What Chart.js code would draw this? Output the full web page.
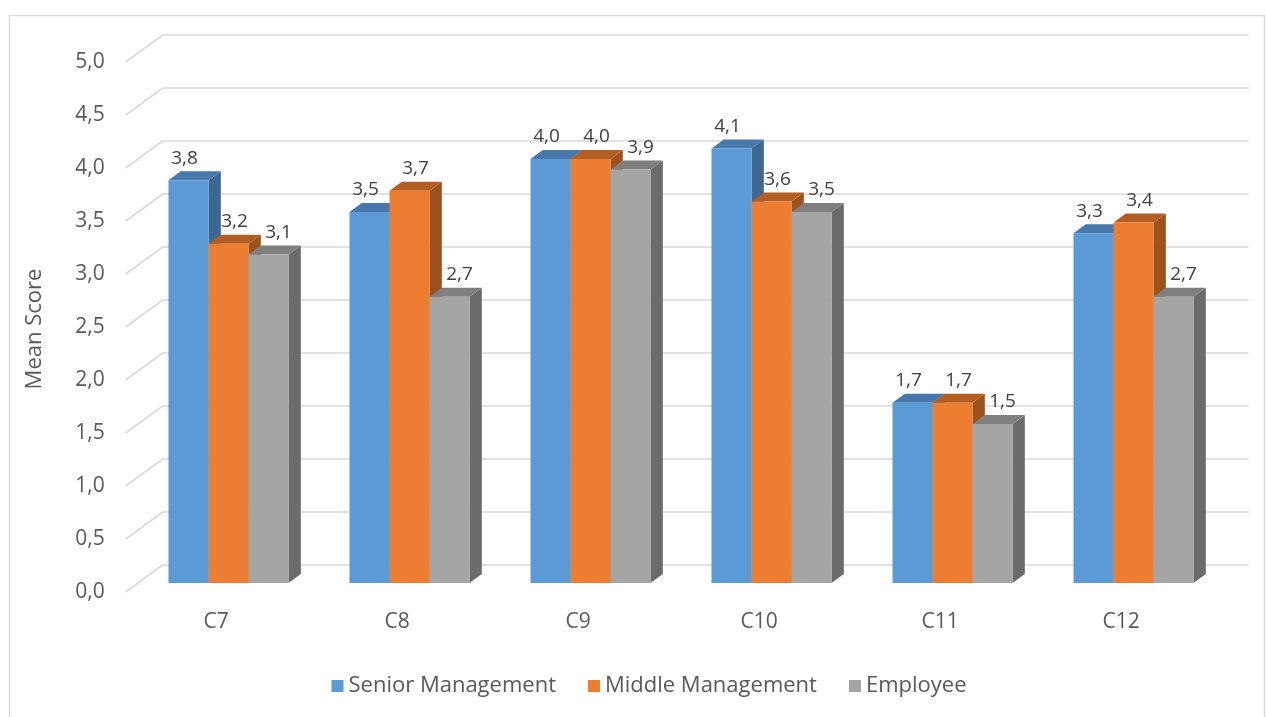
<!DOCTYPE html>
<html>
<head>
<meta charset="utf-8">
<title>Mean Score</title>
<script src="https://cdn.jsdelivr.net/npm/chart.js@4.4.1/dist/chart.umd.min.js"></script>
<style>
  html, body { margin: 0; padding: 0; background: #fff; }
  canvas { display: block; }
</style>
</head>
<body>
<canvas id="meanScoreChart" width="1266" height="717"></canvas>
<script>
// カテゴリと系列データ
const categories = ['C7', 'C8', 'C9', 'C10', 'C11', 'C12'];
const seniorManagement = [3.8, 3.5, 4.0, 4.1, 1.7, 3.3];
const middleManagement = [3.2, 3.7, 4.0, 3.6, 1.7, 3.4];
const employee = [3.1, 2.7, 3.9, 3.5, 1.5, 2.7];
const seriesNames = ['Senior Management', 'Middle Management', 'Employee'];
const yTicks = [0, 0.5, 1, 1.5, 2, 2.5, 3, 3.5, 4, 4.5, 5];

const FONT = '"Open Sans", "Noto Sans", sans-serif';
const TEXT_COLOR = '#595959';
const GRID_COLOR = '#d9d9d9';

// 奥行き（前面→背面）。棒は奥行きの 1/3〜2/3 に置く
const DEPTH_X = 37;
const DEPTH_Y = -27;

const frontColors = ['#5b9bd5', '#ed7d31', '#a5a5a5'];
const topColors = ['#4777ab', '#b55e23', '#7f7f7f'];
const sideColors = ['#3c6892', '#9f511c', '#6b6b6b'];
// データラベルの横ずれ（系列ごと）
const labelShift = [-4, 6, 10];

// 小数点はカンマ表記
function fmt(v) {
    return v.toFixed(1).replace('.', ',');
}

function poly(ctx, pts, color) {
    ctx.beginPath();
    ctx.moveTo(pts[0][0], pts[0][1]);
    for (let i = 1; i < pts.length; i++) ctx.lineTo(pts[i][0], pts[i][1]);
    ctx.closePath();
    ctx.fillStyle = color;
    ctx.fill();
}

// 疑似 3D 描画プラグイン
const pseudo3d = {
    id: 'pseudo3d',
    beforeDraw(chart) {
        const ctx = chart.ctx;
        ctx.save();
        ctx.fillStyle = '#ffffff';
        ctx.fillRect(0, 0, chart.width, chart.height);
        ctx.strokeStyle = GRID_COLOR;
        ctx.lineWidth = 1.5;
        ctx.strokeRect(9.5, 15.5, chart.width - 11, chart.height - 10);
        ctx.restore();
    },
    beforeDatasetsDraw(chart) {
        const ctx = chart.ctx;
        const {left, right} = chart.chartArea;
        const y = chart.scales.y;
        const x = chart.scales.x;
        const fx = -DEPTH_X / 3, fy = -DEPTH_Y / 3;       // 前面
        const bx = DEPTH_X * 2 / 3, by = DEPTH_Y * 2 / 3; // 背面

        ctx.save();
        // 壁と床の目盛線
        ctx.strokeStyle = GRID_COLOR;
        ctx.lineWidth = 1.6;
        for (const v of yTicks) {
            const py = y.getPixelForValue(v);
            ctx.beginPath();
            ctx.moveTo(left + fx, py + fy);
            ctx.lineTo(left + bx, py + by);
            ctx.lineTo(right + bx, py + by);
            ctx.stroke();
        }

        // Y 軸ラベル
        ctx.fillStyle = TEXT_COLOR;
        ctx.font = '21px ' + FONT;
        ctx.textAlign = 'right';
        ctx.textBaseline = 'middle';
        for (const v of yTicks) {
            ctx.fillText(fmt(v), left + fx - 21, y.getPixelForValue(v) + fy);
        }

        // カテゴリラベル
        ctx.font = '21px ' + FONT;
        ctx.textAlign = 'center';
        const base = y.getPixelForValue(0);
        categories.forEach((c, i) => {
            ctx.fillText(c, x.getPixelForValue(i) + fx, base + fy + 30);
        });

        // 棒の上面と側面（左から順に）
        const dx = DEPTH_X / 3, dy = DEPTH_Y / 3;
        categories.forEach((c, i) => {
            chart.data.datasets.forEach((ds, d) => {
                const el = chart.getDatasetMeta(d).data[i];
                const xl = el.x - el.width / 2;
                const xr = el.x + el.width / 2;
                const top = el.y, bottom = el.base;
                poly(ctx, [[xr, top], [xr + dx, top + dy], [xr + dx, bottom + dy], [xr, bottom]], sideColors[d]);
                poly(ctx, [[xl, top], [xr, top], [xr + dx, top + dy], [xl + dx, top + dy]], topColors[d]);
            });
        });
        ctx.restore();
    },
    afterDatasetsDraw(chart) {
        const ctx = chart.ctx;
        ctx.save();
        // データラベル
        ctx.fillStyle = '#404040';
        ctx.font = '19px ' + FONT;
        ctx.textAlign = 'center';
        ctx.textBaseline = 'middle';
        chart.data.datasets.forEach((ds, d) => {
            chart.getDatasetMeta(d).data.forEach((el, i) => {
                ctx.fillText(fmt(ds.data[i]), el.x + labelShift[d], el.y - 22);
            });
        });

        // 軸タイトル
        ctx.fillStyle = TEXT_COLOR;
        ctx.font = '22px ' + FONT;
        ctx.translate(35, 329);
        ctx.rotate(-Math.PI / 2);
        ctx.fillText('Mean Score', 0, 0);
        ctx.restore();

        // 凡例
        ctx.save();
        ctx.font = '22px ' + FONT;
        ctx.textBaseline = 'middle';
        ctx.textAlign = 'left';
        const box = 12, gap = 5, spacing = 32;
        const widths = seriesNames.map(n => box + gap + ctx.measureText(n).width);
        const total = widths.reduce((a, b) => a + b, 0) + spacing * (widths.length - 1);
        let lx = 649 - total / 2;
        const ly = 686;
        seriesNames.forEach((n, d) => {
            ctx.fillStyle = frontColors[d];
            ctx.fillRect(lx, ly - box / 2, box, box);
            ctx.fillStyle = TEXT_COLOR;
            ctx.fillText(n, lx + box + gap, ly);
            lx += widths[d] + spacing;
        });
        ctx.restore();
    }
};

new Chart(document.getElementById('meanScoreChart'), {
    type: 'bar',
    data: {
        labels: categories,
        datasets: [
            {label: seriesNames[0], data: seniorManagement, backgroundColor: frontColors[0]},
            {label: seriesNames[1], data: middleManagement, backgroundColor: frontColors[1]},
            {label: seriesNames[2], data: employee, backgroundColor: frontColors[2]}
        ]
    },
    options: {
        responsive: false,
        animation: false,
        layout: {
            padding: {left: 138, right: 42, top: 53, bottom: 134}
        },
        datasets: {
            bar: {categoryPercentage: 0.663, barPercentage: 1, borderWidth: 0}
        },
        scales: {
            x: {display: false},
            y: {display: false, min: 0, max: 5}
        },
        plugins: {
            legend: {display: false},
            tooltip: {enabled: false}
        }
    },
    plugins: [pseudo3d]
});
</script>
</body>
</html>
